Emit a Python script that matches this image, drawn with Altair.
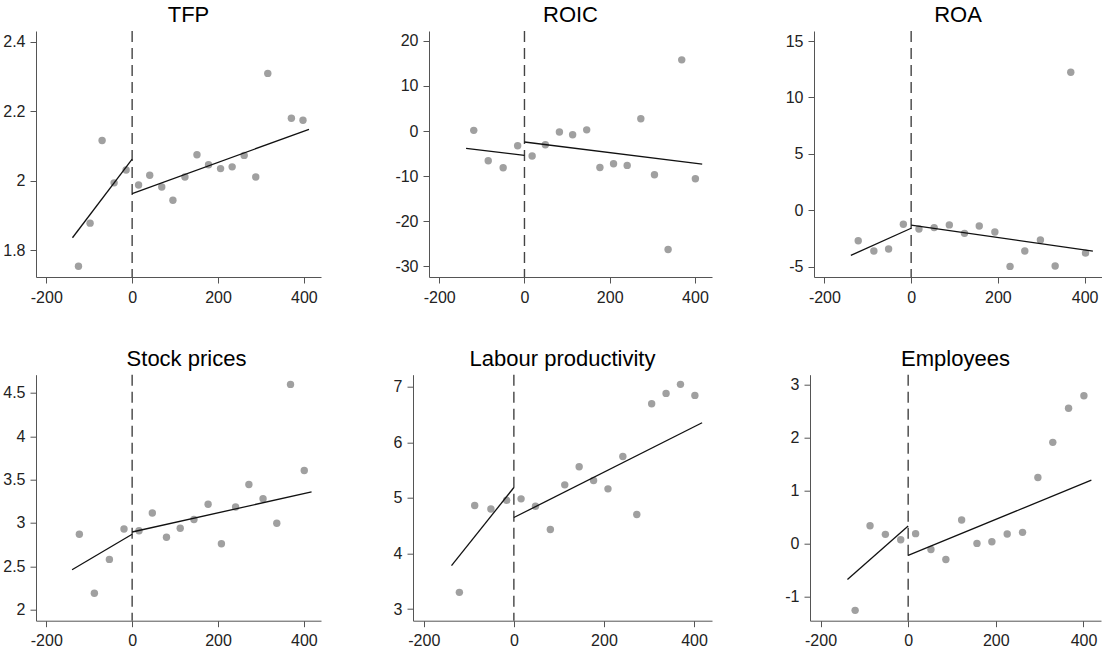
import altair as alt
import pandas as pd

x_domain = [-224, 440]
x_ticks = [-200, 0, 200, 400]
cutoff = [0]
seg_labels = ["before", "before", "after", "after"]

# TFP
tfp_x = [-125, -98, -70, -42, -14, 15, 41, 69, 95, 123, 151, 178, 206, 233, 261, 288, 316, 371, 398]
tfp_y = [1.754, 1.878, 2.116, 1.994, 2.031, 1.988, 2.016, 1.982, 1.944, 2.011, 2.075, 2.046, 2.035, 2.040,
         2.073, 2.011, 2.309, 2.180, 2.174]
tfp_fit_x = [-139, 0, 0, 412]
tfp_fit_y = [1.836, 2.062, 1.963, 2.148]

# ROIC
roic_x = [-119, -85, -50, -16, 18, 49, 82, 113, 146, 177, 209, 241, 273, 305, 337, 369, 401]
roic_y = [0.15, -6.6, -8.15, -3.27, -5.56, -3.04, -0.22, -0.82, 0.26, -8.1, -7.26, -7.63, 2.73, -9.7,
          -26.3, 15.8, -10.6]
roic_fit_x = [-137, 0, 0, 417]
roic_fit_y = [-3.86, -5.41, -2.44, -7.33]

# ROA
roa_x = [-122, -86, -52, -18, 18, 53, 88, 123, 157, 193, 228, 262, 298, 332, 368, 402]
roa_y = [-2.7, -3.62, -3.44, -1.25, -1.66, -1.54, -1.3, -2.05, -1.4, -1.93, -4.98, -3.62, -2.64, -4.95,
         12.23, -3.8]
roa_fit_x = [-139, 0, 0, 419]
roa_fit_y = [-4.0, -1.6, -1.33, -3.62]

# Stock prices
stock_x = [-123, -88, -53, -19, 16, 47, 80, 112, 144, 177, 208, 241, 272, 305, 337, 369, 401]
stock_y = [2.87, 2.19, 2.58, 2.93, 2.91, 3.115, 2.835, 2.94, 3.04, 3.216, 2.76, 3.185, 3.443, 3.28,
           2.996, 4.598, 3.605]
stock_fit_x = [-140, 0, 0, 418]
stock_fit_y = [2.46, 2.87, 2.896, 3.358]

# Labour productivity
lab_x = [-121, -87, -51, -16, 16, 48, 81, 113, 145, 177, 209, 242, 273, 306, 338, 370, 402]
lab_y = [3.30, 4.862, 4.80, 4.958, 4.982, 4.85, 4.43, 5.234, 5.56, 5.312, 5.162, 5.745, 4.70, 6.694,
         6.88, 7.042, 6.844]
lab_fit_x = [-138.5, 0, 0, 418]
lab_fit_y = [3.78, 5.186, 4.646, 6.351]

# Employees
emp_x = [-121, -87, -52, -17, 17, 52, 86, 122, 157, 191, 226, 261, 296, 330, 366, 401]
emp_y = [-1.266, 0.335, 0.171, 0.07, 0.184, -0.114, -0.304, 0.443, 0.0, 0.032, 0.177, 0.209, 1.247,
         1.911, 2.557, 2.791]
emp_fit_x = [-138.6, 0, 0, 418]
emp_fit_y = [-0.684, 0.329, -0.228, 1.196]

panels = [
    dict(title="TFP", x=tfp_x, y=tfp_y, fx=tfp_fit_x, fy=tfp_fit_y,
         domain=[1.723, 2.431], ticks=[1.8, 2, 2.2, 2.4], width=285, extent=36, dx=10),
    dict(title="ROIC", x=roic_x, y=roic_y, fx=roic_fit_x, fy=roic_fit_y,
         domain=[-32.4, 22.2], ticks=[-30, -20, -10, 0, 10, 20], width=283, extent=97.3, dx=0),
    dict(title="ROA", x=roa_x, y=roa_y, fx=roa_fit_x, fy=roa_fit_y,
         domain=[-5.92, 15.89], ticks=[-5, 0, 5, 10, 15], width=288, extent=92, dx=0),
    dict(title="Stock prices", x=stock_x, y=stock_y, fx=stock_fit_x, fy=stock_fit_y,
         domain=[1.873, 4.71], ticks=[2, 2.5, 3, 3.5, 4, 4.5], width=285, extent=36, dx=8),
    dict(title="Labour productivity", x=lab_x, y=lab_y, fx=lab_fit_x, fy=lab_fit_y,
         domain=[2.79, 7.216], ticks=[3, 4, 5, 6, 7], width=299, extent=81.7, dx=0),
    dict(title="Employees", x=emp_x, y=emp_y, fx=emp_fit_x, fy=emp_fit_y,
         domain=[-1.462, 3.19], ticks=[-1, 0, 1, 2, 3], width=291, extent=87.6, dx=0),
]

H = 246


def panel(p):
    pts = pd.DataFrame({"x": p["x"], "y": p["y"]})
    fit = pd.DataFrame({"x": p["fx"], "y": p["fy"], "seg": seg_labels})
    cut = pd.DataFrame({"x": cutoff})
    xs = alt.Scale(domain=x_domain, nice=False, zero=False)
    ys = alt.Scale(domain=p["domain"], nice=False, zero=False)
    xax = alt.Axis(values=x_ticks, labelExpr="datum.value + ''", title=None, grid=False)
    yax = alt.Axis(values=p["ticks"], labelExpr="datum.value + ''", title=None, grid=False,
                   minExtent=p["extent"], maxExtent=p["extent"])
    X = alt.X("x:Q", scale=xs, axis=xax)
    Y = alt.Y("y:Q", scale=ys, axis=yax)
    rule = alt.Chart(cut).mark_rule(color="#444444", strokeDash=[11, 6], strokeWidth=1.4).encode(x=X)
    dots = alt.Chart(pts).mark_circle(size=55, color="#a0a0a0", opacity=1).encode(x=X, y=Y)
    lines = alt.Chart(fit).mark_line(color="#111111", strokeWidth=1.3).encode(x=X, y=Y, detail="seg:N")
    return alt.layer(rule, dots, lines).properties(
        width=p["width"], height=H,
        title=alt.TitleParams(text=p["title"], fontSize=22, font="Liberation Sans",
                              fontWeight="normal", color="black", baseline="alphabetic",
                              offset=-14, dx=p["dx"], anchor="middle"),
    )


row1 = alt.hconcat(*[panel(p) for p in panels[:3]], spacing=10)
row2 = alt.hconcat(*[panel(p) for p in panels[3:]], spacing=10)
chart = alt.vconcat(row1, row2, spacing=42.7).properties(
    padding={"left": 0, "top": 4, "right": 0, "bottom": 0}
).configure_view(stroke=None).configure_axis(
    domainColor="#555555", tickColor="#555555", labelColor="#222222",
    labelFont="Liberation Sans", labelFontSize=16, tickSize=6, domainWidth=1, tickWidth=1,
).configure_axisX(labelPadding=6).configure_axisY(labelPadding=5)

chart.save("out.html", embed_options={"renderer": "svg", "actions": False})
